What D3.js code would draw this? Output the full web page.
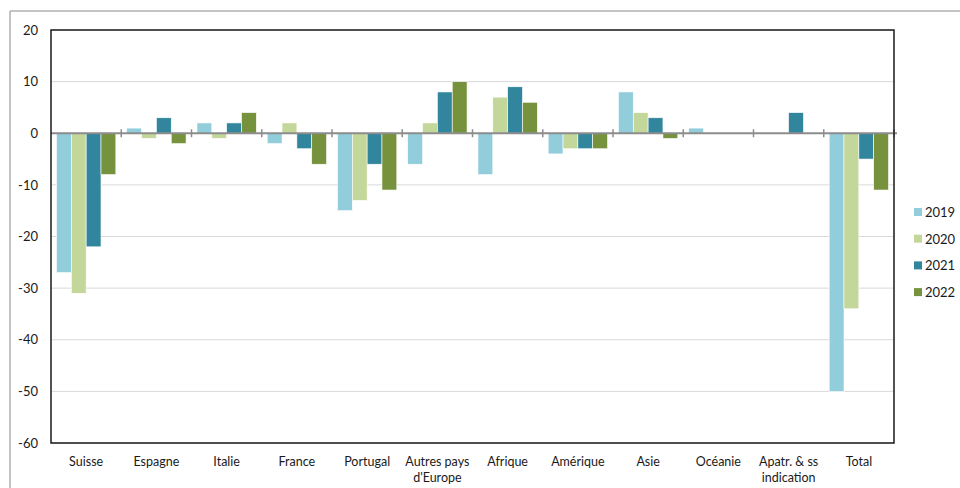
<!DOCTYPE html>
<html>
<head>
<meta charset="utf-8">
<script src="https://cdn.jsdelivr.net/npm/d3@7"></script>
<style>
  body { margin: 0; background: #fff; }
  text { font-family: Lato, "Open Sans", sans-serif; fill: #1a1a1a; }
</style>
</head>
<body>
<div id="chart"></div>
<script>
// data
let categories = ["Suisse", "Espagne", "Italie", "France", "Portugal", "Autres pays|d'Europe",
    "Afrique", "Amérique", "Asie", "Océanie", "Apatr. & ss|indication", "Total"];
let years = ["2019", "2020", "2021", "2022"];
let v2019 = [-27, 1, 2, -2, -15, -6, -8, -4, 8, 1, 0, -50];
let v2020 = [-31, -1, -1, 2, -13, 2, 7, -3, 4, 0, 0, -34];
let v2021 = [-22, 3, 2, -3, -6, 8, 9, -3, 3, 0, 4, -5];
let v2022 = [-8, -2, 4, -6, -11, 10, 6, -3, -1, 0, 0, -11];
let yTicks = [20, 10, 0, -10, -20, -30, -40, -50, -60];
let colors = ["#92cddc", "#c4d79b", "#31859c", "#76923c"];

let series = [v2019, v2020, v2021, v2022];

let margin = {top: 30, right: 66, bottom: 45, left: 51};
let width = 960 - margin.left - margin.right;
let height = 488 - margin.top - margin.bottom;

let svg = d3.select('#chart')
    .append('svg')
    .attr('width', 960)
    .attr('height', 488);

// outer frame (top and left only visible)
svg.append('line').attr('x1', 10).attr('x2', 960).attr('y1', 11).attr('y2', 11)
    .attr('stroke', '#b0b0b0').attr('stroke-width', 1.5);
svg.append('line').attr('x1', 10).attr('x2', 10).attr('y1', 11).attr('y2', 488)
    .attr('stroke', '#b0b0b0').attr('stroke-width', 1.5);

let g = svg.append('g').attr('transform', 'translate(' + margin.left + ',' + margin.top + ')');

let x = d3.scaleBand().domain(categories).range([0, width]).paddingInner(0.155).paddingOuter(0.078);
let xs = d3.scaleBand().domain(years).range([0, x.bandwidth()]);
let y = d3.scaleLinear().domain([-60, 20]).range([height, 0]);
let step = width / categories.length;

// gridlines
g.append('g').selectAll('line').data(yTicks.filter(function (d) { return d !== 0; }))
    .enter().append('line')
    .attr('x1', 0).attr('x2', width)
    .attr('y1', function (d) { return y(d); })
    .attr('y2', function (d) { return y(d); })
    .attr('stroke', '#d9d9d9').attr('stroke-width', 1);

// y axis labels, plain hyphen for negatives like the original
let yAxis = d3.axisLeft(y).tickValues(yTicks).tickSize(0).tickPadding(13)
    .tickFormat(function (d) { return String(d); });
let yg = g.append('g').call(yAxis);
yg.select('.domain').remove();
yg.selectAll('text').attr('font-size', '13px');

// bars
let groups = g.selectAll('.grp').data(categories).enter().append('g')
    .attr('transform', function (d) { return 'translate(' + x(d) + ',0)'; });

groups.selectAll('rect').data(function (d, i) {
    return years.map(function (yr, j) { return {year: yr, value: series[j][i], k: j}; });
}).enter().append('rect')
    .attr('x', function (d) { return xs(d.year); })
    .attr('width', xs.bandwidth())
    .attr('y', function (d) { return y(Math.max(0, d.value)); })
    .attr('height', function (d) { return Math.abs(y(d.value) - y(0)); })
    .attr('fill', function (d) { return colors[d.k]; })
    .attr('stroke', '#fff').attr('stroke-width', 0.6);

// zero line with category ticks
g.append('line').attr('x1', 0).attr('x2', width + 3).attr('y1', y(0)).attr('y2', y(0))
    .attr('stroke', '#8c8c8c').attr('stroke-width', 2);
g.append('g').selectAll('line').data(d3.range(1, categories.length + 1))
    .enter().append('line')
    .attr('x1', function (d) { return d * step; })
    .attr('x2', function (d) { return d * step; })
    .attr('y1', y(0) - 4).attr('y2', y(0) + 4)
    .attr('stroke', '#8c8c8c').attr('stroke-width', 1.5);

// plot frame
g.append('rect').attr('x', 0).attr('y', 0).attr('width', width).attr('height', height)
    .attr('fill', 'none').attr('stroke', '#1a1a1a').attr('stroke-width', 1.5);

// category labels
let lab = g.append('g').selectAll('text').data(categories).enter().append('text')
    .attr('x', function (d, i) { return (i + 0.5) * step; })
    .attr('y', height + 23)
    .attr('text-anchor', 'middle')
    .attr('font-size', '12.5px');
lab.each(function (d) {
    let parts = d.split('|');
    let t = d3.select(this);
    parts.forEach(function (p, i) {
        t.append('tspan').attr('x', t.attr('x')).attr('dy', i === 0 ? 0 : 16).text(p);
    });
});

// legend
let leg = svg.append('g').attr('transform', 'translate(914,213)');
years.forEach(function (yr, i) {
    let row = leg.append('g').attr('transform', 'translate(0,' + (i * 26.7) + ')');
    row.append('rect').attr('x', 0).attr('y', -5).attr('width', 8).attr('height', 8).attr('fill', colors[i]);
    row.append('text').attr('x', 11).attr('y', 4).attr('font-size', '13px').text(yr);
});
</script>
</body>
</html>
